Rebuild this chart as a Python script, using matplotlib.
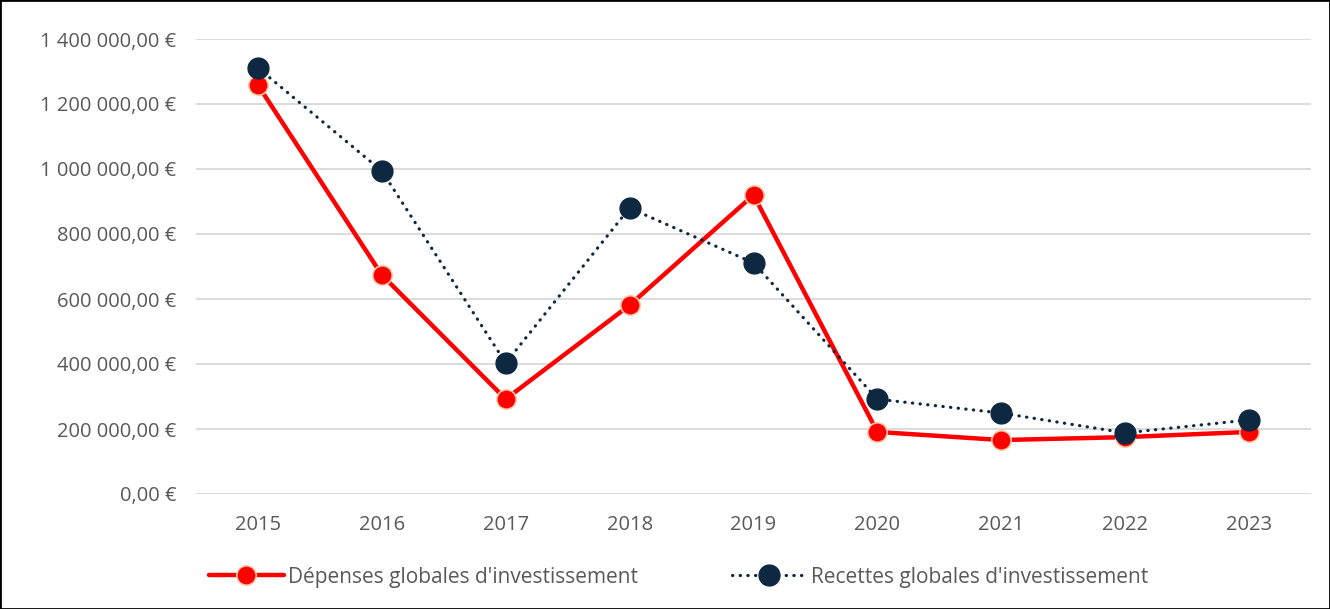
import matplotlib
matplotlib.use('Agg')
import matplotlib.pyplot as plt
from matplotlib.ticker import FuncFormatter, MultipleLocator
from matplotlib.patches import Rectangle

# Données
annees = ['2015', '2016', '2017', '2018', '2019', '2020', '2021', '2022', '2023']
depenses = [1258000, 674000, 292000, 581000, 920000, 191000, 166000, 175000, 191000]
recettes = [1311000, 994000, 403000, 880000, 711000, 292000, 249000, 188000, 228000]

plt.rcParams['font.family'] = ['Open Sans', 'DejaVu Sans']

fig = plt.figure(figsize=(13.3, 6.09), dpi=100)
ax = fig.add_axes([196 / 1330, 1 - 494 / 609, (1311 - 196) / 1330, (494 - 39) / 609])

x = range(len(annees))
ax.plot(x, depenses, color='#FF0000', lw=3.2, marker='o', markersize=14,
        markerfacecolor='#FF0000', markeredgecolor='#F8CBAD', markeredgewidth=1.2,
        solid_capstyle='round', label="Dépenses globales d'investissement", zorder=3)
ax.plot(x, recettes, color='#0E2841', lw=2.3, ls=(0, (0.1, 2.3)), dash_capstyle='round',
        marker='o', markersize=15, markerfacecolor='#0E2841', markeredgecolor='#0E2841',
        label="Recettes globales d'investissement", zorder=4)

def euros(v, pos):
    s = f'{v:,.2f}'.replace(',', ' ').replace('.', ',')
    return s + ' €'

ax.set_ylim(0, 1400000)
ax.set_xlim(-0.5, len(annees) - 0.5)
ax.yaxis.set_major_locator(MultipleLocator(200000))
ax.yaxis.set_major_formatter(FuncFormatter(euros))
ax.set_xticks(list(x))
ax.set_xticklabels(annees)
ax.grid(axis='y', color='#D9D9D9', lw=1.3)
ax.set_axisbelow(True)
for s in ax.spines.values():
    s.set_visible(False)
ax.tick_params(axis='both', length=0, labelsize=14.5, labelcolor='#595959')
ax.tick_params(axis='y', pad=14)
ax.tick_params(axis='x', pad=15)

leg = fig.legend(loc='center', bbox_to_anchor=(0.51, 1 - 577 / 609), ncol=2, frameon=False,
                 fontsize=15, handlelength=3.6, columnspacing=4.5, handletextpad=0.2)
for t in leg.get_texts():
    t.set_color('#595959')

fig.add_artist(Rectangle((0, 0), 1, 1, transform=fig.transFigure, fill=False,
                         edgecolor='black', lw=2.0))

fig.savefig('out.png', dpi=100)
